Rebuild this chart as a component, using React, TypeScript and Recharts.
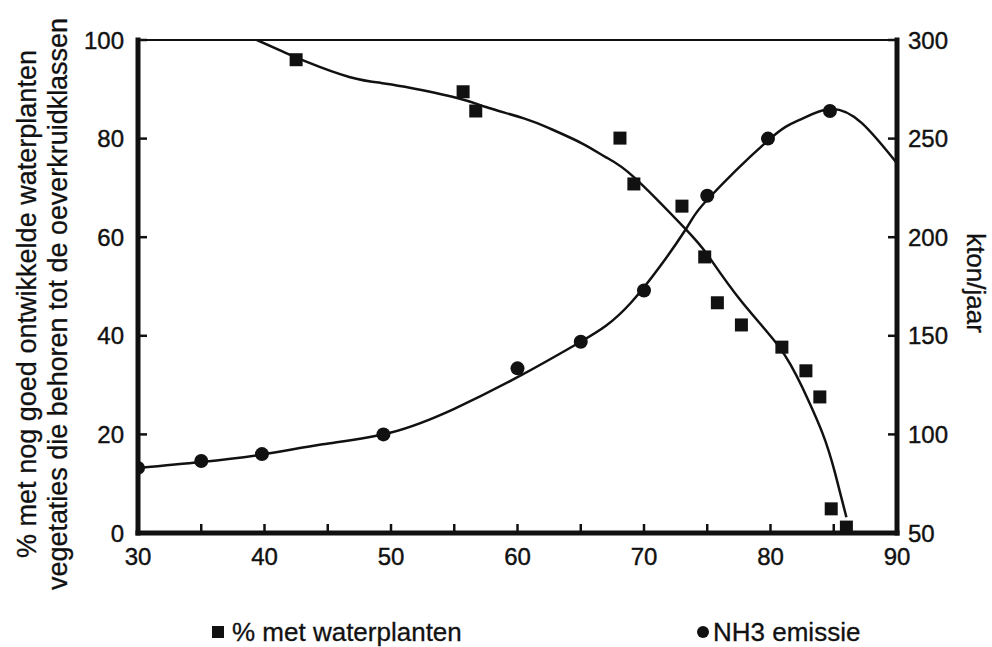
import React from "react";
import { ComposedChart, Line, Scatter, XAxis, YAxis, ReferenceLine, Label } from "recharts";

// gemeten punten: % met waterplanten (linker as)
const waterX = [42.5, 55.7, 56.7, 68.1, 69.2, 73.0, 74.8, 75.8, 77.7, 80.9, 82.8, 83.9, 84.8, 86.0];
const waterY = [96, 89.5, 85.6, 80.1, 70.8, 66.3, 56, 46.7, 42.2, 37.7, 32.9, 27.6, 4.9, 1.2];

// gemeten punten: NH3 emissie (rechter as, kton/jaar)
const nh3X = [30, 35, 39.8, 49.4, 60, 65, 70, 75, 79.8, 84.7];
const nh3Y = [83, 86.5, 90, 100, 133.5, 147, 173, 221, 250, 264];

const waterCurveX = [39.4, 41.5, 43.4, 46.7, 49.2, 51.1, 55.3, 57.5, 60.5, 62.6, 65.2, 67.0, 69.2, 73.2, 75.0, 77.6, 80.7, 82.5, 84.1, 85.1, 86.0];
const waterCurveY = [100, 97.6, 95.5, 92.5, 91.3, 90.5, 88.2, 86.4, 84.1, 82.0, 78.9, 76.2, 72.2, 61.9, 56.5, 47.3, 37.7, 29.6, 20.3, 12.2, 3.2];

const nh3CurveX = [30, 35, 40, 44.6, 50, 55, 60, 65, 69, 73.2, 75, 79.8, 82.3, 84.7, 87.2, 90];
const nh3CurveY = [83, 86, 90, 95, 101, 113, 129, 147, 167, 203, 219, 249, 259.5, 265, 258, 237.5];

const xTicks = [30, 35, 40, 45, 50, 55, 60, 65, 70, 75, 80, 85, 90];
const leftTicks = [0, 20, 40, 60, 80, 100];
const rightTicks = [50, 100, 150, 200, 250, 300];

const zip = (xs: number[], ys: number[]) => xs.map((x, i) => ({ x, y: ys[i] }));

const waterPoints = zip(waterX, waterY);
const nh3Points = zip(nh3X, nh3Y);
const waterCurve = zip(waterCurveX, waterCurveY);
const nh3Curve = zip(nh3CurveX, nh3CurveY);

const FONT = "'Liberation Sans', Arial, Helvetica, sans-serif";
const INK = "#111";

const BottomTick = (props: any) => {
  const { x, y, payload } = props;
  if (payload.value % 10 !== 0) return null;
  return (
    <text x={x} y={y + 32} textAnchor="middle" fontSize={24} fontFamily={FONT} fill={INK}
      stroke={INK} strokeWidth={0.4}>
      {payload.value}
    </text>
  );
};

const SideTick = (props: any) => {
  const { x, y, payload, textAnchor } = props;
  return (
    <text x={x} y={y} dy="0.36em" textAnchor={textAnchor} fontSize={24} fontFamily={FONT} fill={INK}
      stroke={INK} strokeWidth={0.4}>
      {payload.value}
    </text>
  );
};

const LeftTitle = () => {
  const cy = 304;
  return (
    <g fontSize={27} fontFamily={FONT} fill={INK} stroke={INK} strokeWidth={0.3}>
      <text x={26} y={cy} textAnchor="middle" dy="0.36em" textLength={508} lengthAdjust="spacingAndGlyphs"
        transform={`rotate(-90, 26, ${cy})`}>
        % met nog goed ontwikkelde waterplanten
      </text>
      <text x={57} y={cy} textAnchor="middle" dy="0.36em" textLength={572} lengthAdjust="spacingAndGlyphs"
        transform={`rotate(-90, 57, ${cy})`}>
        vegetaties die behoren tot de oeverkruidklassen
      </text>
    </g>
  );
};

const RightTitle = () => {
  const cx = 976;
  const cy = 283;
  return (
    <text x={cx} y={cy} textAnchor="middle" dy="0.36em" fontSize={26} fontFamily={FONT} fill={INK}
      stroke={INK} strokeWidth={0.3} transform={`rotate(90, ${cx}, ${cy})`}>
      kton/jaar
    </text>
  );
};

const square = (p: any) => <rect x={p.cx - 6.5} y={p.cy - 6.5} width={13} height={13} fill={INK} />;
const dot = (p: any) => <circle cx={p.cx} cy={p.cy} r={7} fill={INK} />;

const tickLineStyle = { stroke: INK, strokeWidth: 2.5 };

export default function App() {
  return (
    <div style={{ position: "absolute", left: 0, top: 0, width: 992, height: 647, background: "#fff" }}>
      <ComposedChart width={992} height={647} margin={{ top: 40, right: 0, bottom: 0, left: 0 }}>
        <XAxis
          type="number"
          dataKey="x"
          domain={[30, 90]}
          ticks={xTicks}
          interval={0}
          height={114}
          tickSize={-9}
          tickMargin={9}
          tickLine={tickLineStyle}
          axisLine={false}
          tick={<BottomTick />}
          allowDataOverflow
        />
        <YAxis
          yAxisId="left"
          dataKey="y"
          domain={[0, 100]}
          ticks={leftTicks}
          interval={0}
          width={138}
          tickSize={-9}
          tickMargin={23}
          tickLine={tickLineStyle}
          axisLine={false}
          tick={<SideTick />}
          allowDataOverflow
        >
          <Label content={<LeftTitle />} />
        </YAxis>
        <YAxis
          yAxisId="right"
          orientation="right"
          dataKey="y"
          domain={[50, 300]}
          ticks={rightTicks}
          interval={0}
          width={95}
          tickSize={-9}
          tickMargin={20}
          tickLine={tickLineStyle}
          axisLine={false}
          tick={<SideTick />}
          allowDataOverflow
        >
          <Label content={<RightTitle />} />
        </YAxis>
        {/* kader: dunne bovenrand, dikke assen */}
        <ReferenceLine yAxisId="left" y={100} stroke={INK} strokeWidth={2} />
        <ReferenceLine yAxisId="left" y={0} stroke={INK} strokeWidth={5} strokeLinecap="square" />
        <ReferenceLine yAxisId="left" x={30} stroke={INK} strokeWidth={5} strokeLinecap="square" />
        <ReferenceLine yAxisId="left" x={90} stroke={INK} strokeWidth={5} strokeLinecap="square" />
        <Line
          yAxisId="left"
          data={waterCurve}
          dataKey="y"
          type="natural"
          stroke={INK}
          strokeWidth={2.5}
          dot={false}
          activeDot={false}
          isAnimationActive={false}
        />
        <Line
          yAxisId="right"
          data={nh3Curve}
          dataKey="y"
          type="natural"
          stroke={INK}
          strokeWidth={2.5}
          dot={false}
          activeDot={false}
          isAnimationActive={false}
        />
        <Scatter yAxisId="left" data={waterPoints} dataKey="y" shape={square} isAnimationActive={false} />
        <Scatter yAxisId="right" data={nh3Points} dataKey="y" shape={dot} isAnimationActive={false} />
      </ComposedChart>
      <div
        style={{
          position: "absolute",
          top: 617,
          left: 0,
          width: 992,
          fontFamily: FONT,
          fontSize: 26,
          color: INK,
          lineHeight: "30px",
          WebkitTextStroke: "0.3px #111",
        }}
      >
        <span style={{ position: "absolute", left: 212, top: 0, display: "flex", alignItems: "center" }}>
          <span style={{ display: "inline-block", width: 12, height: 12, background: INK, marginRight: 8 }} />
          % met waterplanten
        </span>
        <span style={{ position: "absolute", left: 697, top: 0, display: "flex", alignItems: "center" }}>
          <span
            style={{ display: "inline-block", width: 12, height: 12, borderRadius: 6, background: INK, marginRight: 4 }}
          />
          NH3 emissie
        </span>
      </div>
    </div>
  );
}
